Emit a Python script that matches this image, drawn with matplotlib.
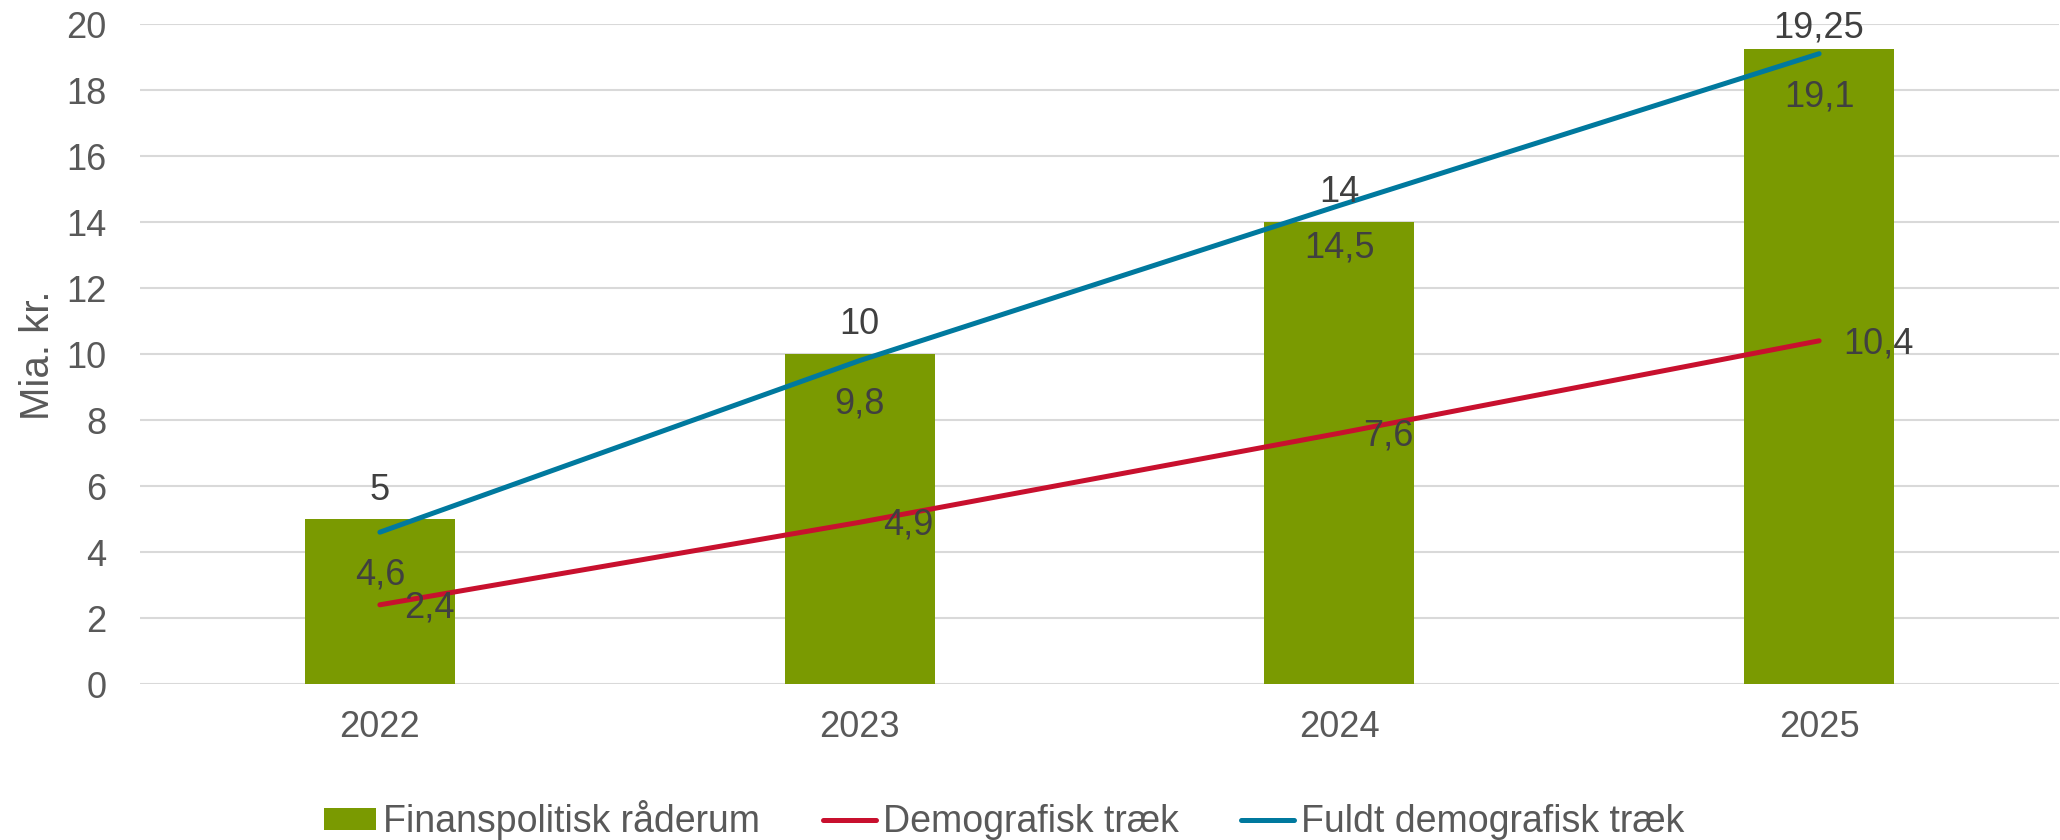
import matplotlib
matplotlib.use("Agg")
import matplotlib.pyplot as plt
from matplotlib.patches import Patch
from matplotlib.lines import Line2D

plt.rcParams['font.family'] = ['Liberation Sans', 'DejaVu Sans']

years = ["2022", "2023", "2024", "2025"]
raaderum = [5, 10, 14, 19.25]
demografisk = [2.4, 4.9, 7.6, 10.4]
fuldt_demografisk = [4.6, 9.8, 14.5, 19.1]
yticks = [0, 2, 4, 6, 8, 10, 12, 14, 16, 18, 20]

GREEN = "#7A9A01"
RED = "#C8102E"
BLUE = "#00799E"
TICK = "#595959"
LABEL = "#404040"
FS = 26

def fmt(v):
    return ("%g" % v).replace(".", ",")

fig = plt.figure(figsize=(20.6, 8.4), dpi=100)
ax = fig.add_axes([140/2060, 1-684/840, 1919/2060, 660/840])

x = list(range(len(years)))
ax.bar(x, raaderum, width=0.3125, color=GREEN, zorder=2)
ax.plot(x, demografisk, color=RED, lw=3.6, solid_capstyle='round', zorder=3)
ax.plot(x, fuldt_demografisk, color=BLUE, lw=3.6, solid_capstyle='round', zorder=3)

ax.set_xlim(-0.5, 3.5)
ax.set_ylim(0, 20)

# bar labels above bars, kept inside the plot area
fig.canvas.draw()
top_px = ax.transAxes.transform((0, 1))[1]
for xi, v in zip(x, raaderum):
    bar_top = ax.transData.transform((xi, v))[1]
    off = min(29, top_px - bar_top - 4)
    ax.annotate(fmt(v), (xi, v), xytext=(0, off), textcoords='offset pixels',
                ha='center', va='center', fontsize=FS, color=LABEL, zorder=4,
                annotation_clip=False)
for xi, v in zip(x, fuldt_demografisk):
    ax.annotate(fmt(v), (xi, v), xytext=(0, -43), textcoords='offset pixels',
                ha='center', va='center', fontsize=FS, color=LABEL, zorder=4)
for xi, v in zip(x, demografisk):
    ax.annotate(fmt(v), (xi, v), xytext=(24, -3), textcoords='offset pixels',
                ha='left', va='center', fontsize=FS, color=LABEL, zorder=4)

ax.set_yticks(yticks)
ax.set_yticklabels([str(t) for t in yticks])
ax.set_xticks(x)
ax.set_xticklabels(years)
ax.tick_params(axis='both', length=0, labelsize=FS, labelcolor=TICK)
ax.tick_params(axis='y', pad=24)
ax.tick_params(axis='x', pad=19)
ax.grid(axis='y', color='#D9D9D9', lw=1.5, zorder=0)
for s in ax.spines.values():
    s.set_visible(False)

fig.text(38/2060, 1-355/840, "Mia. kr.", rotation=90, ha='center', va='center',
         fontsize=29, color=TICK)

handles = [Patch(facecolor=GREEN, edgecolor='none'),
           Line2D([], [], color=RED, lw=3.6, solid_capstyle='round'),
           Line2D([], [], color=BLUE, lw=3.6, solid_capstyle='round')]
labels = ["Finanspolitisk råderum", "Demografisk træk", "Fuldt demografisk træk"]
leg = fig.legend(handles, labels, loc='center', bbox_to_anchor=(1004/2060, 1-820/840),
                 ncol=3, frameon=False, fontsize=27, labelcolor=TICK,
                 handlelength=1.39, handleheight=0.51, handletextpad=0.19,
                 columnspacing=1.68, borderaxespad=0, borderpad=0)

fig.savefig("out.png", dpi=100)
